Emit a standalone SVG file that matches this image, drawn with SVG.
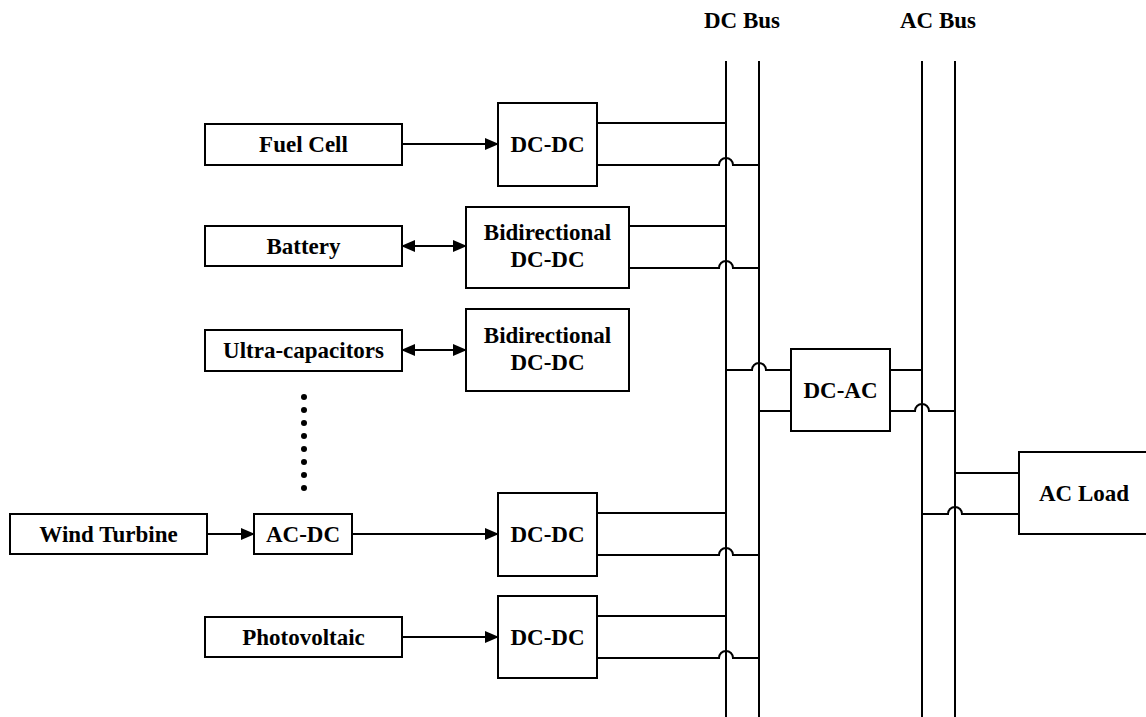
<svg xmlns="http://www.w3.org/2000/svg" width="1146" height="717" viewBox="0 0 1146 717">
<defs>
<style>
.box{fill:#fff;stroke:#000;stroke-width:2}
.ln{fill:none;stroke:#000;stroke-width:2}
.t{font-family:"Liberation Serif","Times New Roman",serif;font-weight:bold;font-size:23px;text-anchor:middle;fill:#000}
</style>
<marker id="ah" markerWidth="14" markerHeight="12" refX="13" refY="6" orient="auto" markerUnits="userSpaceOnUse">
<path d="M0,0 L14,6 L0,12 Z" fill="#000"/>
</marker>
<marker id="as" markerWidth="14" markerHeight="12" refX="1" refY="6" orient="auto" markerUnits="userSpaceOnUse">
<path d="M14,0 L0,6 L14,12 Z" fill="#000"/>
</marker>
</defs>
<rect width="1146" height="717" fill="#fff"/>
<g id="bus-labels">
<text class="t" x="742" y="28">DC Bus</text>
<text class="t" x="938" y="28">AC Bus</text>
</g>
<g id="connectors">
<line class="ln" x1="726" y1="61" x2="726" y2="717"/>
<line class="ln" x1="759" y1="61" x2="759" y2="717"/>
<line class="ln" x1="922" y1="61" x2="922" y2="717"/>
<line class="ln" x1="955" y1="61" x2="955" y2="717"/>
<line class="ln" x1="402" y1="144" x2="498" y2="144" marker-end="url(#ah)"/>
<line class="ln" x1="402" y1="246" x2="466" y2="246" marker-start="url(#as)" marker-end="url(#ah)"/>
<line class="ln" x1="402" y1="350" x2="466" y2="350" marker-start="url(#as)" marker-end="url(#ah)"/>
<line class="ln" x1="207" y1="534" x2="254" y2="534" marker-end="url(#ah)"/>
<line class="ln" x1="352" y1="534" x2="498" y2="534" marker-end="url(#ah)"/>
<line class="ln" x1="402" y1="637" x2="498" y2="637" marker-end="url(#ah)"/>
<path class="ln" d="M597,123 H726"/>
<path class="ln" d="M597,165 H719 A7,7 0 0 1 733,165 H759"/>
<path class="ln" d="M629,226 H726"/>
<path class="ln" d="M629,268 H719 A7,7 0 0 1 733,268 H759"/>
<path class="ln" d="M597,513 H726"/>
<path class="ln" d="M597,555 H719 A7,7 0 0 1 733,555 H759"/>
<path class="ln" d="M597,616 H726"/>
<path class="ln" d="M597,658 H719 A7,7 0 0 1 733,658 H759"/>
<path class="ln" d="M726,370 H752 A7,7 0 0 1 766,370 H791"/>
<path class="ln" d="M759,411 H791"/>
<path class="ln" d="M890,370 H922"/>
<path class="ln" d="M890,411 H915 A7,7 0 0 1 929,411 H955"/>
<path class="ln" d="M955,473 H1019"/>
<path class="ln" d="M922,514 H948 A7,7 0 0 1 962,514 H1019"/>
</g>
<g id="fuel-cell"><rect class="box" x="205" y="124" width="197" height="41"/><text class="t" x="303.5" y="152">Fuel Cell</text></g>
<g id="dcdc-1"><rect class="box" x="498" y="103" width="99" height="83"/><text class="t" x="547.5" y="152">DC-DC</text></g>
<g id="battery"><rect class="box" x="205" y="226" width="197" height="40"/><text class="t" x="303.5" y="254">Battery</text></g>
<g id="bidir-1"><rect class="box" x="466" y="207" width="163" height="81"/><text class="t" x="547.5" y="240">Bidirectional</text><text class="t" x="547.5" y="267">DC-DC</text></g>
<g id="ultracap"><rect class="box" x="205" y="330" width="197" height="41"/><text class="t" x="303.5" y="358">Ultra-capacitors</text></g>
<g id="bidir-2"><rect class="box" x="466" y="309" width="163" height="82"/><text class="t" x="547.5" y="343">Bidirectional</text><text class="t" x="547.5" y="370">DC-DC</text></g>
<g id="dots" fill="#000">
<circle cx="304" cy="397" r="3"/><circle cx="304" cy="410" r="3"/><circle cx="304" cy="423" r="3"/><circle cx="304" cy="436" r="3"/>
<circle cx="304" cy="449" r="3"/><circle cx="304" cy="462" r="3"/><circle cx="304" cy="475" r="3"/><circle cx="304" cy="488" r="3"/>
</g>
<g id="wind-turbine"><rect class="box" x="10" y="514" width="197" height="40"/><text class="t" x="108.5" y="542">Wind Turbine</text></g>
<g id="acdc"><rect class="box" x="254" y="514" width="98" height="40"/><text class="t" x="303" y="542">AC-DC</text></g>
<g id="dcdc-4"><rect class="box" x="498" y="493" width="99" height="83"/><text class="t" x="547.5" y="542">DC-DC</text></g>
<g id="photovoltaic"><rect class="box" x="205" y="617" width="197" height="40"/><text class="t" x="303.5" y="645">Photovoltaic</text></g>
<g id="dcdc-5"><rect class="box" x="498" y="596" width="99" height="82"/><text class="t" x="547.5" y="645">DC-DC</text></g>
<g id="dcac"><rect class="box" x="791" y="349" width="99" height="82"/><text class="t" x="840.5" y="398">DC-AC</text></g>
<g id="ac-load"><rect class="box" x="1019" y="452" width="140" height="82"/><text class="t" x="1084" y="501">AC Load</text></g>
</svg>
